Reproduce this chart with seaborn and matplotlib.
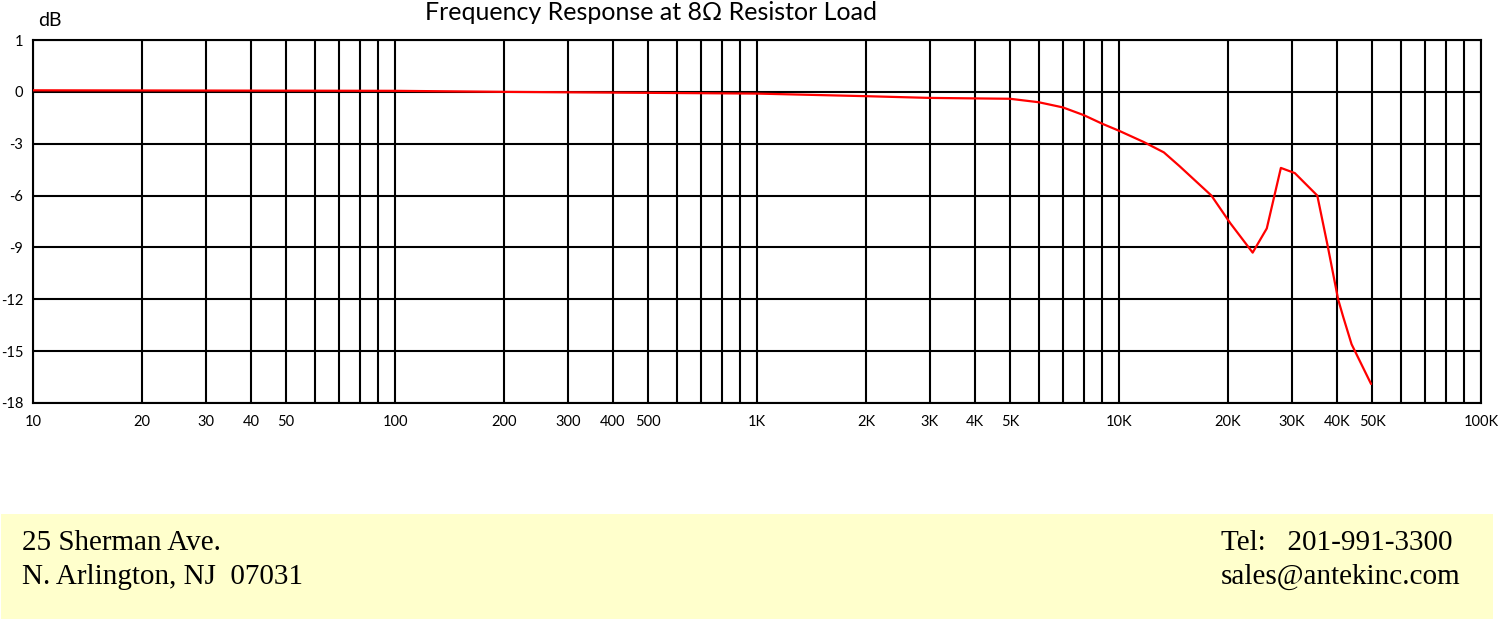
import numpy as np
import pandas as pd
import matplotlib
matplotlib.use("Agg")
import matplotlib.pyplot as plt
import seaborn as sns
from matplotlib.ticker import FixedLocator, NullFormatter
from matplotlib.patches import Rectangle

# ------------------------ data ------------------------
freq_hz = [10, 100, 200, 1000, 2000, 3000, 5000, 6000, 7000, 8000, 9000,
           10000, 11700, 13300, 14700, 18000, 20300, 23400, 25600, 28000,
           30600, 35300, 37700, 40300, 41600, 43900, 49700]
level_db = [0.03, 0.02, 0.0, -0.1, -0.25, -0.35, -0.4, -0.6, -0.9, -1.35, -1.85,
            -2.25, -2.9, -3.5, -4.3, -6.0, -7.6, -9.3, -7.9, -4.4,
            -4.7, -6.0, -8.9, -12.0, -13.0, -14.6, -16.9]

x_label_ticks = [10, 20, 30, 40, 50, 100, 200, 300, 400, 500,
                 1000, 2000, 3000, 4000, 5000, 10000, 20000, 30000, 40000, 50000, 100000]
x_label_text = ["10", "20", "30", "40", "50", "100", "200", "300", "400", "500",
                "1K", "2K", "3K", "4K", "5K", "10K", "20K", "30K", "40K", "50K", "100K"]
y_ticks = [1, 0, -3, -6, -9, -12, -15, -18]

df = pd.DataFrame({"freq": freq_hz, "db": level_db})

# ------------------------ style ------------------------
sns.set_style("white")
plt.rcParams["font.family"] = ["Lato", "DejaVu Sans"]
plt.rcParams["text.color"] = "black"

fig = plt.figure(figsize=(15.09, 6.31), dpi=100)
ax = fig.add_axes([33 / 1509, 1 - 403 / 631, (1481 - 33) / 1509, (403 - 40) / 631])

sns.lineplot(data=df, x="freq", y="db", color="#ff0000", linewidth=1.6, ax=ax, zorder=5)

ax.set_xscale("log")
ax.set_xlim(10, 100000)

# grid rows are equally spaced: the 0..1 dB row is as tall as each 3 dB row
def fwd(v):
    v = np.asarray(v, dtype=float)
    return np.where(v > 0, 3 * v, v)

def inv(v):
    v = np.asarray(v, dtype=float)
    return np.where(v > 0, v / 3, v)

ax.set_yscale("function", functions=(fwd, inv))
ax.set_ylim(-18, 1)
ax.set_yticks(y_ticks)
ax.set_yticklabels([str(t) for t in y_ticks])

all_grid = [m * 10 ** e for e in range(1, 5) for m in range(1, 10)] + [100000]
minor = [f for f in all_grid if f not in x_label_ticks]
ax.xaxis.set_major_locator(FixedLocator(x_label_ticks))
ax.set_xticklabels(x_label_text)
ax.xaxis.set_minor_locator(FixedLocator(minor))
ax.xaxis.set_minor_formatter(NullFormatter())

ax.grid(True, which="both", axis="x", color="black", linewidth=1.5)
ax.grid(True, which="major", axis="y", color="black", linewidth=1.5)
ax.tick_params(which="both", length=0, labelsize=10.5, colors="black")
ax.tick_params(axis="y", pad=7)
ax.tick_params(axis="x", pad=9)
for s in ax.spines.values():
    s.set_color("black")
    s.set_linewidth(1.5)
ax.set_xlabel("")
ax.set_ylabel("")

fig.text(651 / 1509, 1 - 13 / 631, "Frequency Response at 8Ω Resistor Load",
         ha="center", va="center", fontsize=18)
fig.text(38 / 1509, 1 - 21 / 631, "dB", ha="left", va="center", fontsize=14)

# footer box
fig.patches.append(Rectangle((1 / 1509, 1 - 619 / 631), 1492 / 1509, 105 / 631,
                             transform=fig.transFigure, facecolor="#ffffcc",
                             edgecolor="none", zorder=0))
serif = ["Liberation Serif", "DejaVu Serif"]
fs = 21
fig.text(22 / 1509, 1 - 543 / 631, "25 Sherman Ave.", family=serif, fontsize=fs, va="center")
fig.text(22 / 1509, 1 - 577 / 631, "N. Arlington, NJ  07031", family=serif, fontsize=fs, va="center")
fig.text(1221 / 1509, 1 - 543 / 631, "Tel:   201-991-3300", family=serif, fontsize=fs, va="center")
fig.text(1221 / 1509, 1 - 577 / 631, "sales@antekinc.com", family=serif, fontsize=fs, va="center")

fig.savefig("out.png", dpi=100)
